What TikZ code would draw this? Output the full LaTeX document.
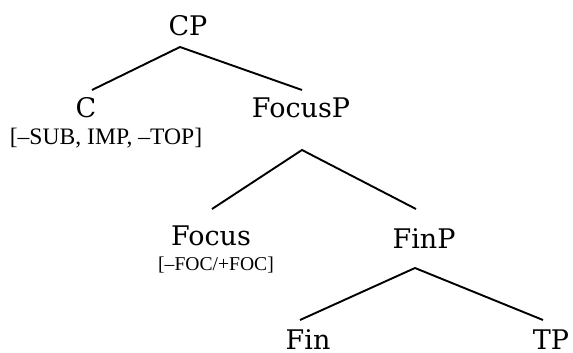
\documentclass[tikz,border=0pt]{standalone}
\usepackage{fontspec}
\setmainfont{DejaVu Serif}
\newfontfamily\featfont{Liberation Serif}

\tikzset{
  cat/.style={font=\fontsize{13.5}{15}\selectfont, inner sep=0pt, anchor=base},
  feat/.style={font=\featfont\fontsize{11.8}{13}\selectfont, inner sep=0pt, anchor=base},
  branch/.style={line width=0.95pt}
}

\begin{document}
\begin{tikzpicture}[x=0.5pt,y=-0.5pt]
    \useasboundingbox (0,0) rectangle (573,353);
    % categories
    \node[cat] (cp) at (188,36) {CP};
    \node[cat] (c) at (86,118) {C};
    \node[feat] (cfeat) at (106,145) {[–SUB, IMP, –TOP]};
    \node[cat] (focusp) at (301,118) {FocusP};
    \node[cat] (focus) at (211,245) {Focus};
    \node[feat,font=\featfont\fontsize{9.8}{12}\selectfont] (focusfeat) at (216,270) {[–FOC/+FOC]};
    \node[cat] (finp) at (424,248) {FinP};
    \node[cat] (fin) at (308,349) {Fin};
    \node[cat] (tp) at (551,349) {TP};
    % branches
    \draw[branch] ([shift={(6,-28)}]c.base) -- ([shift={(-8,11)}]cp.base) -- ([shift={(1,-28)}]focusp.base);
    \draw[branch] ([shift={(1,-36)}]focus.base) -- ([shift={(1,32)}]focusp.base) -- ([shift={(-8,-39)}]finp.base);
    \draw[branch] ([shift={(-8,-29)}]fin.base) -- ([shift={(-9,20)}]finp.base) -- ([shift={(-8,-29)}]tp.base);
\end{tikzpicture}
\end{document}
